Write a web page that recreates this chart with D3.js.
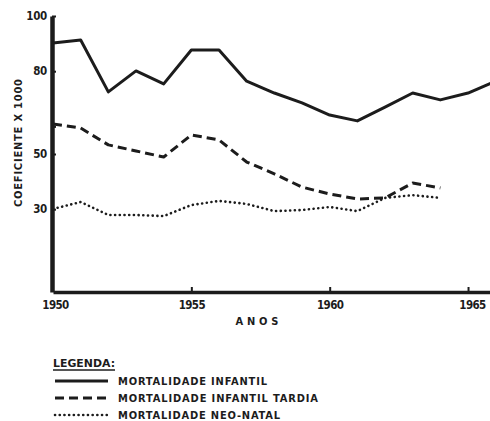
<!DOCTYPE html>
<html><head><meta charset="utf-8">
<script src="https://cdn.jsdelivr.net/npm/d3@7"></script>
<style>
body{margin:0;background:#fff;}
svg{display:block;}
text{font-family:"DejaVu Sans Condensed","Liberation Sans Narrow","DejaVu Sans",sans-serif;font-weight:bold;fill:#1c1c1c;}
</style></head>
<body>
<svg id="c" width="490" height="421"></svg>
<script>
const years = [1950,1951,1952,1953,1954,1955,1956,1957,1958,1959,1960,1961,1962,1963,1964,1965,1966];
const infantil = [90.2,91.3,72.5,80.1,75.4,87.7,87.7,76.4,72.1,68.5,64.1,62.0,67.0,72.1,69.6,72.1,76.4];
const tardiaYears = [1950,1951,1952,1953,1954,1955,1956,1957,1958,1959,1960,1961,1962,1963,1964];
const tardia = [60.9,59.4,53.3,51.1,48.9,56.9,55.1,47.1,42.8,38.0,35.5,33.7,34.1,39.5,37.7];
const neonatal = [30.1,32.6,27.9,27.9,27.5,31.5,33.0,31.9,29.3,29.7,30.8,29.3,34.1,35.1,34.1];
const yTicks = [30,50,60,80,100];
const yLabelled = [30,50,80,100];
const xTicks = [1950,1955,1960,1965];
const seriesNames = ["MORTALIDADE INFANTIL","MORTALIDADE INFANTIL TARDIA","MORTALIDADE NEO-NATAL"];

const ink = "#1c1c1c";
const svg = d3.select("#c");
const x = d3.scaleLinear().domain([1950,1966]).range([53,495.7]);
const y = d3.scaleLinear().domain([0,100]).range([292,16]);

// axes
const gy = svg.append("g").attr("transform","translate(52,0)")
  .call(d3.axisLeft(y).tickValues(yTicks).tickFormat(d=>yLabelled.includes(d)?d:"")
    .tickSizeInner(-4).tickSizeOuter(0).tickPadding(5));
gy.select(".domain").attr("stroke",ink).attr("stroke-width",4.5);
gy.selectAll(".tick line").attr("stroke",ink).attr("stroke-width",2);
gy.selectAll(".tick text").attr("font-size",11.5).attr("letter-spacing",-0.3).attr("fill",ink).style("font-family",null);

const gx = svg.append("g").attr("transform","translate(0,292)")
  .call(d3.axisBottom(x).tickValues(xTicks).tickFormat(d3.format("d")).tickSizeInner(-5).tickSizeOuter(0).tickPadding(9));
gx.select(".domain").attr("stroke",ink).attr("stroke-width",3.5);
gx.selectAll(".tick line").attr("stroke",ink).attr("stroke-width",2).attr("opacity",d=>d===1950?0:1);
gx.selectAll(".tick text").attr("font-size",11.5).attr("letter-spacing",-0.6).attr("fill",ink).style("font-family",null)
  .attr("dx",d=>d===1950?2:(d===1965?4:0));

svg.append("text").attr("transform","translate(22,143) rotate(-90)").attr("text-anchor","middle")
  .attr("font-size",11).attr("textLength",128).attr("lengthAdjust","spacing").text("COEFICIENTE X 1000");
svg.append("text").attr("x",257).attr("y",325).attr("text-anchor","middle")
  .attr("font-size",11).attr("textLength",43).attr("lengthAdjust","spacing").text("A N O S");

// lines
const line = d3.line().x(d=>x(d[0])).y(d=>y(d[1])).curve(d3.curveLinear);
const styles = [
  {w:3,dash:null,cap:"butt"},
  {w:3,dash:"9 5",cap:"butt"},
  {w:2.6,dash:"0.1 4.6",cap:"round"}
];
const data = [
  years.map((yr,i)=>[yr,infantil[i]]),
  tardiaYears.map((yr,i)=>[yr,tardia[i]]),
  tardiaYears.map((yr,i)=>[yr,neonatal[i]])
];
data.forEach((d,i)=>{
  svg.append("path").attr("d",line(d)).attr("fill","none").attr("stroke",ink)
    .attr("stroke-width",styles[i].w).attr("stroke-dasharray",styles[i].dash)
    .attr("stroke-linecap",styles[i].cap).attr("stroke-linejoin","round");
});

// legend
const lg = svg.append("g");
lg.append("text").attr("x",53).attr("y",367).attr("font-size",10.5).attr("textLength",62).attr("lengthAdjust","spacingAndGlyphs").text("LEGENDA:");
lg.append("line").attr("x1",53).attr("x2",115).attr("y1",370).attr("y2",370).attr("stroke",ink).attr("stroke-width",1.3);
const rowY = [381,398,415];
const textLens = [149,200,162];
seriesNames.forEach((n,i)=>{
  lg.append("line").attr("x1",55).attr("x2",108).attr("y1",rowY[i]).attr("y2",rowY[i])
    .attr("stroke",ink).attr("stroke-width",styles[i].w).attr("stroke-dasharray",styles[i].dash)
    .attr("stroke-linecap",styles[i].cap);
  lg.append("text").attr("x",118).attr("y",rowY[i]+4).attr("font-size",11)
    .attr("textLength",textLens[i]).attr("lengthAdjust","spacing").text(n);
});
</script>
</body></html>
